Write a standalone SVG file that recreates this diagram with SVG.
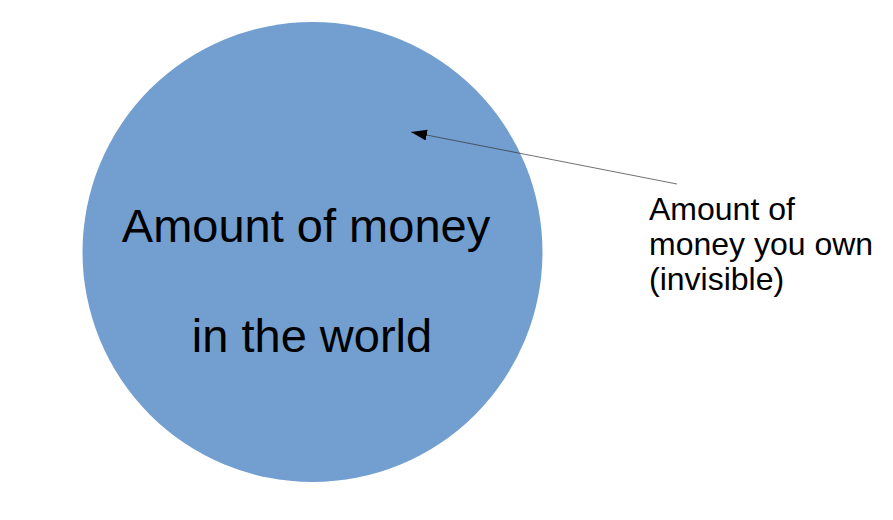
<svg xmlns="http://www.w3.org/2000/svg" width="893" height="520" viewBox="0 0 893 520">
  <style>
    .lbl { font-family: "Liberation Sans", Arial, sans-serif; fill: #000; }
  </style>
  <defs>
    <marker id="arrow" markerUnits="userSpaceOnUse" markerWidth="18" markerHeight="12" refX="16" refY="5.5" orient="auto">
      <path d="M0,0 L16,5.5 L0,11 Z" fill="#000"/>
    </marker>
  </defs>
  <rect width="893" height="520" fill="#fff"/>
  <g id="world">
    <circle cx="312.5" cy="252" r="230" fill="#729fcf"/>
    <text class="lbl" x="306" y="242" font-size="47" text-anchor="middle">Amount of money</text>
    <text class="lbl" x="312" y="352" font-size="47" text-anchor="middle">in the world</text>
  </g>
  <g id="connectors">
    <line x1="677" y1="184" x2="411" y2="132" stroke="#333" stroke-width="0.7" marker-end="url(#arrow)"/>
  </g>
  <g id="you">
    <text class="lbl" font-size="32">
      <tspan x="649" y="220">Amount of</tspan>
      <tspan x="649" y="255">money you own</tspan>
      <tspan x="649" y="290">(invisible)</tspan>
    </text>
  </g>
</svg>
